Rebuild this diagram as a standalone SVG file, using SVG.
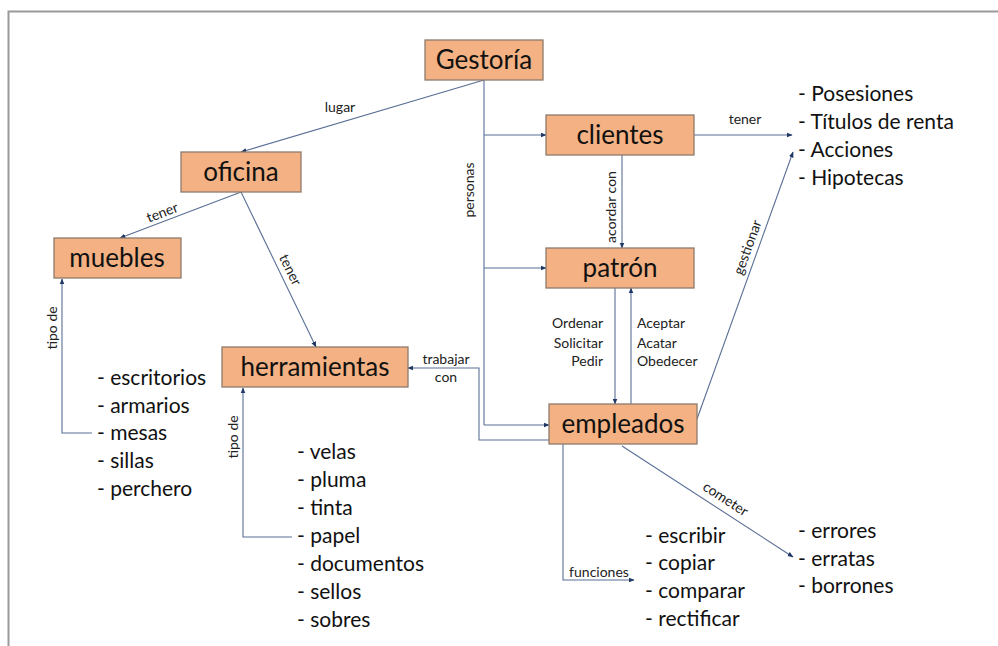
<svg xmlns="http://www.w3.org/2000/svg" width="998" height="646" viewBox="0 0 998 646">
<defs>
<marker id="ah" viewBox="0 0 10 10" refX="9" refY="5" markerWidth="6" markerHeight="6" orient="auto" markerUnits="userSpaceOnUse">
<path d="M0,1 L10,5 L0,9 z" fill="#1F3864"/>
</marker>
<style>
.box{fill:#F4B183;stroke:#8E7A6C;stroke-width:1.3}
.nt{font-family:Lato,"Liberation Sans",sans-serif;font-size:26px;fill:#111;text-anchor:middle}
.lt{font-family:Lato,"Liberation Sans",sans-serif;font-size:21px;fill:#111}
.sm{font-family:Lato,"Liberation Sans",sans-serif;font-size:14px;fill:#222}
.c{fill:none;stroke:#5A6F96;stroke-width:1.1}
.a{marker-end:url(#ah)}
</style>
</defs>
<rect width="998" height="646" fill="#fff"/>
<path d="M8.5,646 L8.5,11.5 L998,11.5" fill="none" stroke="#9a9a9a" stroke-width="2"/>

<g id="connectors">
<path class="c a" d="M484,80 L241,152"/>
<path class="c" d="M484,80 L484,425"/>
<path class="c a" d="M484,135 L546,135"/>
<path class="c a" d="M484,268 L546,268"/>
<path class="c a" d="M484,425 L549,425"/>
<path class="c a" d="M549,440 L479,440 L479,368 L408,368"/>
<path class="c a" d="M622,155 L622,248"/>
<path class="c a" d="M615,288 L615,404"/>
<path class="c a" d="M631,404 L631,288"/>
<path class="c a" d="M694,135 L792,135"/>
<path class="c a" d="M697,419 L793,152"/>
<path class="c a" d="M622,446 L793,557"/>
<path class="c a" d="M563,444 L563,580 L634,580"/>
<path class="c a" d="M241,192 L120,238"/>
<path class="c a" d="M241,192 L316,347"/>
<path class="c a" d="M92,433 L62,433 L62,279"/>
<path class="c a" d="M292,537 L243,537 L243,388"/>

<text class="sm" x="340" y="112" text-anchor="middle">lugar</text>
<text class="sm" transform="translate(474,190) rotate(-90)" text-anchor="middle">personas</text>
<text class="sm" x="745" y="124" text-anchor="middle">tener</text>
<text class="sm" transform="translate(616,207) rotate(-90)" text-anchor="middle">acordar con</text>
<text class="sm" x="603" y="328" text-anchor="end">Ordenar</text>
<text class="sm" x="603" y="348" text-anchor="end">Solicitar</text>
<text class="sm" x="603" y="366" text-anchor="end">Pedir</text>
<text class="sm" x="637" y="328">Aceptar</text>
<text class="sm" x="637" y="348">Acatar</text>
<text class="sm" x="637" y="366">Obedecer</text>
<text class="sm" x="446" y="364" text-anchor="middle">trabajar</text>
<text class="sm" x="446" y="382" text-anchor="middle">con</text>
<text class="sm" transform="translate(752,249) rotate(-70)" text-anchor="middle">gestionar</text>
<text class="sm" transform="translate(723,503) rotate(33)" text-anchor="middle">cometer</text>
<text class="sm" x="599" y="577" text-anchor="middle">funciones</text>
<text class="sm" transform="translate(164,217) rotate(-21)" text-anchor="middle">tener</text>
<text class="sm" transform="translate(286,272) rotate(64)" text-anchor="middle">tener</text>
<text class="sm" transform="translate(57,328) rotate(-90)" text-anchor="middle">tipo de</text>
<text class="sm" transform="translate(238,437) rotate(-90)" text-anchor="middle">tipo de</text>
</g>

<g id="gestoria"><rect class="box" x="425" y="40" width="118" height="40"/><text class="nt" x="484" y="69">Gestoría</text></g>
<g id="oficina"><rect class="box" x="181" y="152" width="120" height="40"/><text class="nt" x="241" y="181">oficina</text></g>
<g id="clientes"><rect class="box" x="546" y="115" width="148" height="40"/><text class="nt" x="620" y="144">clientes</text></g>
<g id="muebles"><rect class="box" x="54" y="238" width="127" height="40"/><text class="nt" x="117" y="267">muebles</text></g>
<g id="patron"><rect class="box" x="546" y="248" width="148" height="40"/><text class="nt" x="620" y="277">patrón</text></g>
<g id="herramientas"><rect class="box" x="222" y="347" width="186" height="40"/><text class="nt" x="315" y="376">herramientas</text></g>
<g id="empleados"><rect class="box" x="549" y="404" width="148" height="40"/><text class="nt" x="623" y="433">empleados</text></g>

<g id="lista-posesiones">
<text class="lt" x="798" y="101">- Posesiones</text>
<text class="lt" x="798" y="129">- Títulos de renta</text>
<text class="lt" x="798" y="157">- Acciones</text>
<text class="lt" x="798" y="185">- Hipotecas</text>
</g>
<g id="lista-muebles">
<text class="lt" x="97" y="385">- escritorios</text>
<text class="lt" x="97" y="413">- armarios</text>
<text class="lt" x="97" y="440">- mesas</text>
<text class="lt" x="97" y="468">- sillas</text>
<text class="lt" x="97" y="496">- perchero</text>
</g>
<g id="lista-herramientas">
<text class="lt" x="297" y="459">- velas</text>
<text class="lt" x="297" y="487">- pluma</text>
<text class="lt" x="297" y="515">- tinta</text>
<text class="lt" x="297" y="543">- papel</text>
<text class="lt" x="297" y="571">- documentos</text>
<text class="lt" x="297" y="599">- sellos</text>
<text class="lt" x="297" y="627">- sobres</text>
</g>
<g id="lista-funciones">
<text class="lt" x="645" y="543">- escribir</text>
<text class="lt" x="645" y="570">- copiar</text>
<text class="lt" x="645" y="598">- comparar</text>
<text class="lt" x="645" y="626">- rectificar</text>
</g>
<g id="lista-errores">
<text class="lt" x="798" y="538">- errores</text>
<text class="lt" x="798" y="566">- erratas</text>
<text class="lt" x="798" y="593">- borrones</text>
</g>
</svg>
